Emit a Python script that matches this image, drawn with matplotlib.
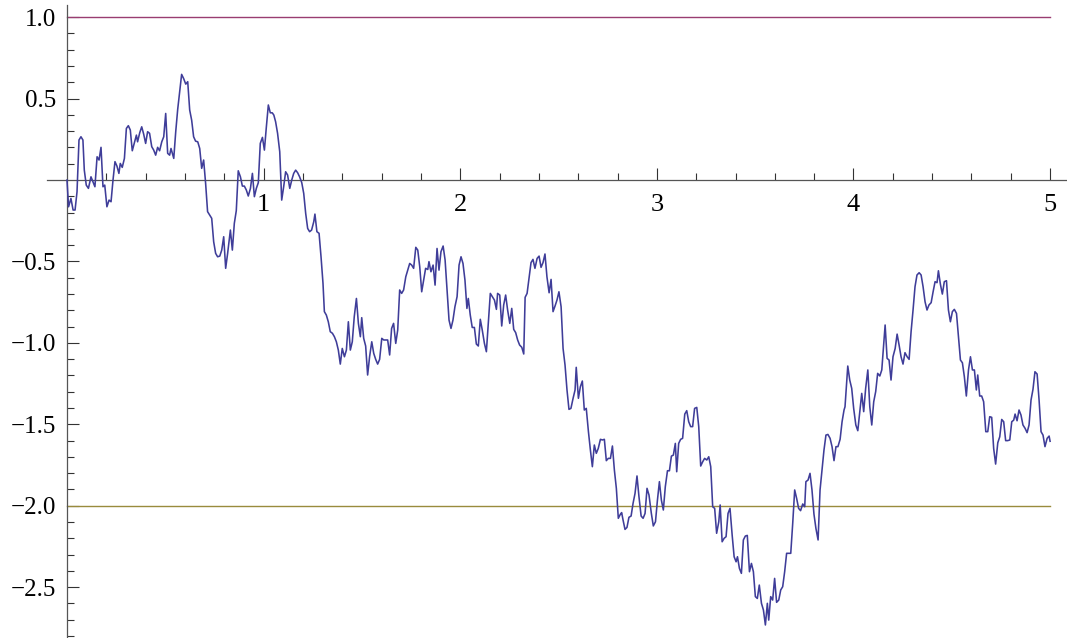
import matplotlib
matplotlib.use("Agg")
import matplotlib.pyplot as plt
from matplotlib.ticker import FixedLocator

# Brownian path (time, value)
path_t = [
    0.000, 0.008, 0.020, 0.031, 0.041, 0.051, 0.061, 0.071, 0.081, 0.088, 0.098, 0.109, 0.122, 0.132, 0.142,
    0.153, 0.163, 0.173, 0.183, 0.192, 0.203, 0.214, 0.224, 0.234, 0.244, 0.254, 0.264, 0.271, 0.281, 0.292,
    0.302, 0.312, 0.322, 0.332, 0.342, 0.353, 0.359, 0.370, 0.380, 0.390, 0.400, 0.410, 0.420, 0.431, 0.441,
    0.451, 0.461, 0.471, 0.482, 0.492, 0.502, 0.512, 0.522, 0.529, 0.543, 0.553, 0.563, 0.583, 0.593, 0.604,
    0.614, 0.624, 0.634, 0.644, 0.654, 0.665, 0.675, 0.685, 0.695, 0.705, 0.715, 0.726, 0.736, 0.746, 0.756,
    0.766, 0.777, 0.787, 0.797, 0.807, 0.817, 0.831, 0.841, 0.851, 0.861, 0.871, 0.882, 0.892, 0.902, 0.912,
    0.922, 0.933, 0.943, 0.953, 0.963, 0.973, 0.983, 0.994, 1.004, 1.014, 1.024, 1.034, 1.044,
    1.052, 1.061, 1.071, 1.082, 1.092, 1.102, 1.112, 1.122, 1.133, 1.143, 1.153, 1.163, 1.173, 1.183, 1.194,
    1.204, 1.214, 1.224, 1.234, 1.244, 1.255, 1.261, 1.271, 1.282, 1.292, 1.302, 1.309, 1.319, 1.329, 1.339,
    1.350, 1.360, 1.370, 1.380, 1.390, 1.400, 1.411, 1.421, 1.431, 1.441, 1.451, 1.461, 1.472, 1.482, 1.492,
    1.499, 1.509, 1.519, 1.529, 1.539, 1.550, 1.560, 1.570, 1.580, 1.590, 1.601, 1.611, 1.621, 1.631, 1.641,
    1.651, 1.661, 1.672, 1.682, 1.692, 1.702, 1.712, 1.723, 1.733, 1.743, 1.753, 1.763, 1.774, 1.784, 1.794,
    1.804, 1.814, 1.824, 1.835, 1.841, 1.851, 1.862, 1.872, 1.882, 1.892, 1.902, 1.913, 1.923, 1.933, 1.943,
    1.953, 1.963, 1.973, 1.984, 1.994, 2.004, 2.014, 2.024, 2.034,
    2.041, 2.051, 2.061, 2.072, 2.082, 2.092, 2.102, 2.112, 2.123, 2.133, 2.143, 2.153, 2.163, 2.174, 2.184,
    2.190, 2.201, 2.211, 2.221, 2.231, 2.241, 2.252, 2.262, 2.272, 2.282, 2.292, 2.302, 2.313, 2.323, 2.330,
    2.340, 2.350, 2.360, 2.370, 2.380, 2.391, 2.401, 2.411, 2.421, 2.431, 2.441, 2.452, 2.462, 2.472, 2.482,
    2.492, 2.502, 2.513, 2.523, 2.533, 2.543, 2.553, 2.563, 2.574, 2.584, 2.590, 2.601, 2.611, 2.621, 2.631,
    2.641, 2.652, 2.662, 2.672, 2.682, 2.692, 2.702, 2.713, 2.723, 2.733, 2.743, 2.753, 2.764, 2.774, 2.784,
    2.794, 2.804, 2.815, 2.821, 2.828, 2.838, 2.848, 2.858, 2.869, 2.879, 2.889, 2.899, 2.909, 2.920, 2.930,
    2.940, 2.950, 2.960,
    2.972, 2.982, 2.993, 3.003, 3.013, 3.023, 3.033, 3.043, 3.054, 3.064, 3.074, 3.084, 3.094, 3.101, 3.111,
    3.121, 3.131, 3.142, 3.152, 3.162, 3.172, 3.182, 3.192, 3.203, 3.213, 3.223, 3.233, 3.243, 3.254, 3.264,
    3.274, 3.284, 3.294, 3.304, 3.315, 3.322, 3.332, 3.342, 3.352, 3.362, 3.372, 3.383, 3.393, 3.403, 3.410,
    3.420, 3.430, 3.440, 3.450, 3.460, 3.471, 3.481, 3.491, 3.501, 3.511, 3.521, 3.532, 3.542, 3.552, 3.562,
    3.569, 3.579, 3.589, 3.599, 3.609, 3.620, 3.630, 3.640, 3.650, 3.660, 3.670, 3.681, 3.691, 3.701, 3.711,
    3.721, 3.731, 3.742, 3.752, 3.758, 3.769, 3.779, 3.789, 3.799, 3.809, 3.820, 3.830, 3.840, 3.850, 3.860,
    3.870, 3.881, 3.891, 3.901, 3.911, 3.921, 3.932, 3.942, 3.952,
    3.957, 3.964, 3.971, 3.981, 3.991, 4.001, 4.012, 4.022, 4.032, 4.042, 4.052, 4.062, 4.073, 4.083, 4.093,
    4.103, 4.113, 4.123, 4.134, 4.144, 4.154, 4.161, 4.171, 4.181, 4.191, 4.201, 4.212, 4.222, 4.232, 4.242,
    4.252, 4.262, 4.273, 4.283, 4.293, 4.303, 4.313, 4.323, 4.334, 4.344, 4.354, 4.364, 4.374, 4.384, 4.395,
    4.405, 4.415, 4.425, 4.432, 4.442, 4.452, 4.462, 4.473, 4.483, 4.493, 4.503, 4.513, 4.524, 4.534, 4.544,
    4.554, 4.564, 4.574, 4.585, 4.595, 4.605, 4.615, 4.625, 4.632, 4.642, 4.652, 4.662, 4.673, 4.683, 4.693,
    4.703, 4.713, 4.723, 4.734, 4.744, 4.754, 4.764, 4.774, 4.784, 4.795, 4.805, 4.815, 4.822, 4.832, 4.842,
    4.852, 4.862, 4.873, 4.883, 4.893, 4.903, 4.913, 4.923, 4.934, 4.944, 4.954, 4.964, 4.974, 4.985, 4.995,
    5.000,
]
path_w = [
    0.000, -0.164, -0.113, -0.184, -0.184, -0.072, 0.246, 0.266, 0.246, 0.061, -0.031, -0.051, 0.020, -0.010, -0.041,
    0.143, 0.123, 0.201, -0.041, -0.031, -0.164, -0.123, -0.133, 0.000, 0.113, 0.086, 0.041, 0.102, 0.078, 0.133,
    0.317, 0.334, 0.307, 0.180, 0.225, 0.276, 0.235, 0.291, 0.327, 0.282, 0.225, 0.297, 0.287, 0.205, 0.184,
    0.153, 0.201, 0.180, 0.235, 0.266, 0.409, 0.164, 0.153, 0.194, 0.133, 0.297, 0.434, 0.649, 0.624, 0.589,
    0.604, 0.430, 0.368, 0.266, 0.239, 0.235, 0.194, 0.072, 0.123, -0.020, -0.194, -0.215, -0.235, -0.379, -0.450,
    -0.471, -0.467, -0.430, -0.348, -0.542, -0.450, -0.307, -0.430, -0.266, -0.188, 0.057, 0.020, -0.037, -0.037, -0.061,
    -0.098, -0.051, 0.041, -0.102, -0.051, -0.016, 0.225, 0.262, 0.184, 0.327, 0.461, 0.413, 0.413,
    0.399, 0.358, 0.287, 0.174, -0.123, -0.041, 0.051, 0.031, -0.051, 0.000, 0.041, 0.061, 0.045, 0.020, -0.016,
    -0.082, -0.205, -0.297, -0.317, -0.307, -0.256, -0.209, -0.317, -0.327, -0.471, -0.634, -0.808, -0.829, -0.870, -0.931,
    -0.941, -0.962, -0.993, -1.044, -1.130, -1.034, -1.085, -1.044, -0.870, -1.044, -0.993, -0.839, -0.727, -0.880, -0.962,
    -0.845, -0.972, -1.019, -1.197, -1.085, -0.993, -1.064, -1.101, -1.130, -1.101, -0.972, -0.982, -0.982, -0.982, -1.074,
    -0.911, -0.880, -1.003, -0.921, -0.675, -0.696, -0.675, -0.594, -0.553, -0.512, -0.522, -0.542, -0.413, -0.430, -0.532,
    -0.686, -0.614, -0.542, -0.549, -0.501, -0.563, -0.522, -0.645, -0.420, -0.553, -0.440, -0.405, -0.491, -0.675, -0.860,
    -0.911, -0.860, -0.778, -0.716, -0.522, -0.471, -0.512, -0.614, -0.788,
    -0.727, -0.829, -0.905, -0.905, -1.007, -1.019, -0.855, -0.921, -1.003, -1.054, -0.870, -0.696, -0.716, -0.737, -0.794,
    -0.696, -0.706, -0.896, -0.767, -0.706, -0.798, -0.880, -0.788, -0.917, -0.937, -0.982, -1.013, -1.027, -1.068, -0.720,
    -0.696, -0.604, -0.507, -0.487, -0.542, -0.481, -0.467, -0.536, -0.507, -0.454, -0.594, -0.692, -0.610, -0.808, -0.774,
    -0.737, -0.686, -0.778, -1.034, -1.136, -1.289, -1.408, -1.402, -1.340, -1.289, -1.150, -1.340, -1.269, -1.234, -1.412,
    -1.402, -1.545, -1.658, -1.760, -1.627, -1.678, -1.648, -1.592, -1.596, -1.592, -1.723, -1.709, -1.709, -1.633, -1.781,
    -1.893, -2.077, -2.051, -2.042, -2.087, -2.145, -2.133, -2.071, -2.063, -1.985, -1.924, -1.817, -1.944, -2.063, -2.077,
    -2.047, -1.893, -1.934,
    -2.047, -2.124, -2.098, -1.965, -1.852, -1.965, -2.026, -1.883, -1.785, -1.785, -1.695, -1.689, -1.617, -1.791, -1.617,
    -1.592, -1.586, -1.437, -1.416, -1.484, -1.514, -1.514, -1.402, -1.396, -1.514, -1.756, -1.730, -1.709, -1.719, -1.699,
    -1.760, -2.006, -2.016, -2.169, -2.098, -1.995, -2.221, -2.200, -2.190, -2.047, -2.016, -2.180, -2.313, -2.344, -2.313,
    -2.385, -2.415, -2.210, -2.186, -2.182, -2.405, -2.354, -2.405, -2.558, -2.569, -2.487, -2.599, -2.640, -2.732, -2.599,
    -2.702, -2.558, -2.579, -2.446, -2.593, -2.579, -2.517, -2.497, -2.405, -2.292, -2.292, -2.292, -2.108, -1.903, -1.955,
    -2.016, -2.030, -1.989, -2.006, -1.852, -1.842, -1.801, -1.903, -2.051, -2.139, -2.210, -1.903, -1.781, -1.658, -1.566,
    -1.562, -1.586, -1.637, -1.723, -1.637, -1.637, -1.592, -1.484, -1.412,
    -1.392, -1.269, -1.142, -1.228, -1.279, -1.402, -1.504, -1.539, -1.422, -1.310, -1.422, -1.279, -1.166, -1.392, -1.504,
    -1.361, -1.299, -1.187, -1.203, -1.166, -1.003, -0.890, -1.095, -1.105, -1.228, -1.085, -1.034, -0.946, -1.013, -1.085,
    -1.130, -1.060, -1.085, -1.101, -0.931, -0.798, -0.655, -0.583, -0.569, -0.583, -0.655, -0.747, -0.798, -0.767, -0.753,
    -0.686, -0.624, -0.630, -0.557, -0.639, -0.700, -0.624, -0.618, -0.798, -0.870, -0.808, -0.794, -0.819, -0.962, -1.105,
    -1.122, -1.208, -1.326, -1.166, -1.085, -1.166, -1.166, -1.289, -1.197, -1.326, -1.326, -1.361, -1.545, -1.545, -1.453,
    -1.457, -1.648, -1.744, -1.613, -1.576, -1.470, -1.484, -1.600, -1.600, -1.596, -1.484, -1.474, -1.437, -1.478, -1.412,
    -1.443, -1.504, -1.525, -1.551, -1.504, -1.351, -1.285, -1.177, -1.191, -1.351, -1.545, -1.566, -1.637, -1.586, -1.572,
    -1.604,
]

upper_level = 1.0
lower_level = -2.0
t_end = 5.0

x_major = [1, 2, 3, 4, 5]
x_minor = [k * 0.2 for k in range(1, 26) if k % 5 != 0]
y_major = [-2.5, -2.0, -1.5, -1.0, -0.5, 0.5, 1.0]
y_minor = [k / 10 for k in range(-28, 11) if k % 5 != 0]

PATH_C = "#3f3d99"
UPPER_C = "#993d71"
LOWER_C = "#998b3d"
AX_C = "#555555"

plt.rcParams["font.family"] = ["Liberation Serif", "DejaVu Serif"]

fig = plt.figure(figsize=(10.67, 6.38), dpi=100)
ax = fig.add_axes([47 / 1067, 0.0, 1020 / 1067, 633 / 638])

ax.plot([0, t_end], [upper_level, upper_level], color=UPPER_C, lw=1.0, zorder=2)
ax.plot([0, t_end], [lower_level, lower_level], color=LOWER_C, lw=1.0, zorder=2)
ax.plot(path_t, path_w, color=PATH_C, lw=1.15, zorder=3)

ax.set_xlim(-0.1017, 5.086)
ax.set_ylim(-2.812, 1.075)

for s in ("top", "right"):
    ax.spines[s].set_visible(False)
ax.spines["left"].set_position(("data", 0))
ax.spines["bottom"].set_position(("data", 0))
for s in ("left", "bottom"):
    ax.spines[s].set_color(AX_C)
    ax.spines[s].set_linewidth(0.9)

ax.xaxis.set_major_locator(FixedLocator(x_major))
ax.xaxis.set_minor_locator(FixedLocator(x_minor))
ax.yaxis.set_major_locator(FixedLocator(y_major))
ax.yaxis.set_minor_locator(FixedLocator(y_minor))
ax.set_xticklabels([str(v) for v in x_major])
ax.set_yticklabels([f"{v:.1f}".replace("-", "\u2212") for v in y_major])

ax.tick_params(axis="both", which="major", direction="in", length=8.6, width=0.8, color="#333333")
ax.tick_params(axis="both", which="minor", direction="in", length=5.0, width=0.8, color="#333333")
ax.tick_params(axis="x", which="major", labelsize=19, pad=10)
ax.tick_params(axis="y", which="major", labelsize=18, pad=8)

ax.patch.set_visible(False)
fig.savefig("out.png", dpi=100)
